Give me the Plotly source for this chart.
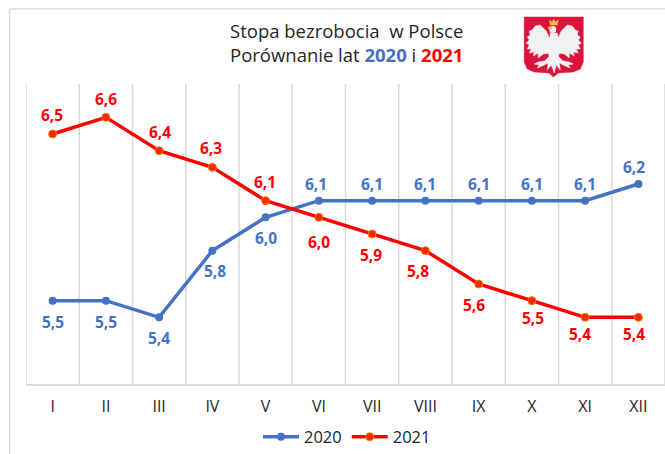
import plotly.graph_objects as go

months = ["I", "II", "III", "IV", "V", "VI", "VII", "VIII", "IX", "X", "XI", "XII"]
y2020 = [5.5, 5.5, 5.4, 5.8, 6.0, 6.1, 6.1, 6.1, 6.1, 6.1, 6.1, 6.2]
y2021 = [6.5, 6.6, 6.4, 6.3, 6.1, 6.0, 5.9, 5.8, 5.6, 5.5, 5.4, 5.4]
shift2020 = [(0, 21), (0, 21), (0, 21), (3, 20), (0, 21), (-3, -17), (0, -17), (0, -17), (0, -17), (0, -17), (0, -17), (-4, -17)]
shift2021 = [(-1, -19), (0, -18), (1, -19), (-1, -19), (-1, -19), (0, 25), (-1, 21), (-7, 20), (-5, 21), (1, 17), (-5, 17), (-4, 17)]

BLUE = "#4472C4"
RED = "#FF0000"
W, H = 665, 454
ML, MR, MT, MB = 26.4, 0.4, 84, 70


def fx(p):
    return (p - ML) / (W - ML - MR)


def fy(p):
    return (H - MB - p) / (H - MT - MB)


def fmt(v):
    return f"{v:.1f}".replace(".", ",")


fig = go.Figure()
fig.add_trace(go.Scatter(x=months, y=y2020, name="2020", mode="lines+markers",
                         line=dict(color=BLUE, width=3.5),
                         marker=dict(color=BLUE, size=8)))
fig.add_trace(go.Scatter(x=months, y=y2021, name="2021", mode="lines+markers",
                         line=dict(color=RED, width=3.5),
                         marker=dict(color="#F02A10", size=8, line=dict(color="#FF7A00", width=1))))

annotations = []
for vals, shifts, col in ((y2020, shift2020, BLUE), (y2021, shift2021, RED)):
    for m, v, (dx, dy) in zip(months, vals, shifts):
        annotations.append(dict(x=m, y=v, text=f"<b>{fmt(v)}</b>", showarrow=False,
                                xshift=dx, yshift=-dy,
                                font=dict(family="Open Sans", size=15.5, color=col)))
annotations.append(dict(xref="paper", yref="paper", x=fx(346), y=fy(43), xanchor="center", yanchor="middle",
                        showarrow=False, align="center",
                        text=f"Stopa bezrobocia  w Polsce<br>Porównanie lat <span style='color:{BLUE}'><b>2020</b></span> i "
                             f"<span style='color:{RED}'><b>2021</b></span>",
                        font=dict(family="Open Sans", size=18.5, color="#262626")))


def poly(points, color, line=None):
    d = "M " + " L ".join(f"{fx(x):.5f},{fy(y):.5f}" for x, y in points) + " Z"
    return dict(type="path", xref="paper", yref="paper", path=d, fillcolor=color,
                line=dict(color=line or color, width=0.5), layer="above")


def ell(x0, y0, x1, y1, color):
    return dict(type="circle", xref="paper", yref="paper", x0=fx(x0), x1=fx(x1), y0=fy(y0), y1=fy(y1),
                fillcolor=color, line=dict(color=color, width=0), layer="above")


def mirror(points, axis=553.5):
    return [(2 * axis - x, y) for x, y in points]


EM = "#DC143C"
WH = "#F1F1F3"
GOLD = "#F0C040"
LEFT_WING = [(550, 40), (546, 31), (540, 25), (535, 26), (532, 30), (529, 31), (530, 35), (527, 37), (529, 40),
             (526, 43), (529, 45), (527, 49), (531, 49), (529, 53), (534, 52), (533, 56), (538, 53), (538, 58),
             (543, 54), (549, 53), (550, 47)]
LEFT_CLAW = [(549, 57), (544, 61), (538, 62), (534, 64), (539, 65), (537, 68), (542, 66), (548, 63), (550, 61)]
BODY = [(550, 33), (557, 33), (559, 43), (561, 50), (558, 56), (563, 63), (559, 62), (560, 70), (556, 65), (554, 73),
        (551, 65), (547, 70), (548, 62), (544, 63), (549, 56), (546, 50), (549, 42)]
shapes = [
    # chart frame: left and top edges only
    dict(type="line", xref="paper", yref="paper", x0=fx(10), x1=fx(10), y0=fy(454), y1=fy(9),
         line=dict(color="#D9D9D9", width=1.5), layer="below"),
    dict(type="line", xref="paper", yref="paper", x0=fx(10), x1=fx(665), y0=fy(9), y1=fy(9),
         line=dict(color="#D9D9D9", width=1.5), layer="below"),
    # shield
    poly([(524, 17), (583, 17), (583, 62), (580, 69), (573, 72), (558, 73), (553, 77), (549, 73),
          (534, 72), (527, 69), (524, 62)], EM),
    poly(LEFT_WING, WH),
    poly(mirror(LEFT_WING), WH),
    poly(BODY, WH),
    poly(LEFT_CLAW, WH),
    poly(mirror(LEFT_CLAW), WH),
    ell(549, 26, 556, 33, WH),
    # crown and beak
    poly([(549, 20), (552, 22), (553.5, 19), (555, 22), (558, 20), (557, 25), (550, 25)], GOLD),
    poly([(548, 27), (551, 26), (551, 29), (548, 29)], GOLD),
]

fig.update_layout(
    width=W, height=H, margin=dict(l=ML, r=MR, t=MT, b=MB, autoexpand=False),
    paper_bgcolor="white", plot_bgcolor="white",
    font=dict(family="Open Sans", color="#262626"),
    showlegend=True,
    legend=dict(orientation="h", x=fx(347), xanchor="center", y=fy(437), yanchor="middle",
                bgcolor="rgba(0,0,0,0)", font=dict(size=16.5, color="#262626"), itemwidth=36),
    annotations=annotations, shapes=shapes,
)
fig.update_xaxes(type="category", categoryorder="array", categoryarray=months, range=[-0.5, 11.5],
                 showgrid=False, showline=True, linecolor="#D9D9D9", linewidth=1.5,
                 ticks="", ticklabelstandoff=7, tickfont=dict(family="Open Sans", size=16, color="#262626"),
                 fixedrange=True)
fig.update_yaxes(range=[5.0, 6.8], showticklabels=False, showgrid=False, zeroline=False, fixedrange=True)

# vertical separators between the month categories
for i in range(13):
    fig.add_shape(type="line", xref="x", yref="paper", x0=i - 0.5, x1=i - 0.5, y0=0, y1=1,
                  line=dict(color="#D9D9D9", width=1.5), layer="below")

fig.write_html("out.html", config=dict(displayModeBar=False),
               post_script="document.body.style.margin='0';")
